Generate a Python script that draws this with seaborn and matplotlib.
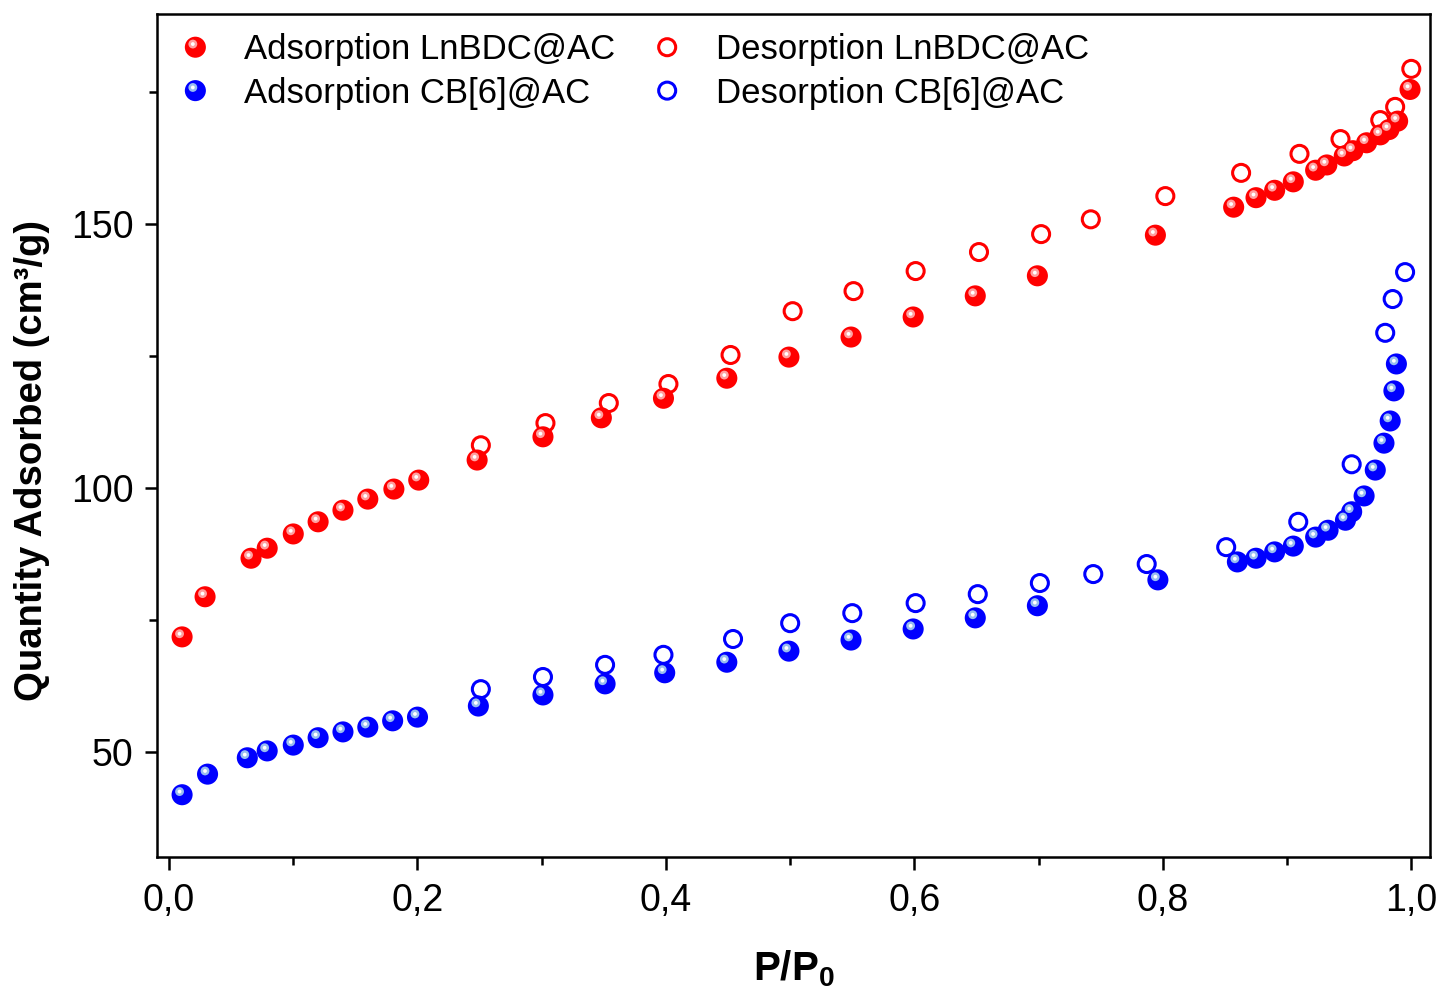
import numpy as np
import pandas as pd
import seaborn as sns
import matplotlib.pyplot as plt
from matplotlib.path import Path
from matplotlib.ticker import FuncFormatter, MultipleLocator
from matplotlib.legend_handler import HandlerTuple

# LnBDC@AC
ads_ln_x = [0.0105, 0.029, 0.066, 0.079, 0.100, 0.120, 0.140, 0.160, 0.181, 0.201,
            0.248, 0.301, 0.348, 0.398, 0.449, 0.499, 0.549, 0.599, 0.649, 0.699,
            0.794, 0.857, 0.875, 0.890, 0.905, 0.923, 0.932, 0.946, 0.953, 0.964,
            0.975, 0.982, 0.989, 0.999]
ads_ln_y = [71.8, 79.4, 86.7, 88.6, 91.3, 93.6, 95.8, 97.9, 99.8, 101.5,
            105.3, 109.7, 113.3, 117.0, 120.8, 124.8, 128.6, 132.4, 136.4, 140.2,
            147.9, 153.2, 155.0, 156.4, 158.0, 160.2, 161.2, 162.9, 163.9, 165.4,
            166.9, 167.9, 169.5, 175.5]
des_ln_x = [1.000, 0.987, 0.975, 0.943, 0.910, 0.863, 0.802, 0.742, 0.702, 0.652,
            0.601, 0.551, 0.502, 0.452, 0.402, 0.354, 0.303, 0.251]
des_ln_y = [179.4, 172.2, 169.7, 166.1, 163.3, 159.7, 155.3, 150.9, 148.1, 144.7,
            141.1, 137.3, 133.5, 125.2, 119.7, 116.1, 112.3, 108.1]

# CB[6]@AC
ads_cb_x = [0.0105, 0.031, 0.063, 0.079, 0.100, 0.120, 0.140, 0.160, 0.180, 0.200,
            0.249, 0.301, 0.351, 0.399, 0.449, 0.499, 0.549, 0.599, 0.649, 0.699,
            0.796, 0.860, 0.875, 0.890, 0.905, 0.923, 0.933, 0.947, 0.952, 0.962,
            0.971, 0.978, 0.983, 0.986, 0.988]
ads_cb_y = [41.9, 45.8, 48.9, 50.2, 51.3, 52.7, 53.8, 54.7, 55.9, 56.6,
            58.7, 60.8, 62.9, 65.0, 67.0, 69.1, 71.2, 73.3, 75.4, 77.7,
            82.6, 86.0, 86.7, 87.9, 89.0, 90.7, 92.0, 93.9, 95.5, 98.5,
            103.4, 108.5, 112.7, 118.4, 123.5]
des_cb_x = [0.995, 0.985, 0.979, 0.952, 0.909, 0.851, 0.787, 0.744, 0.701, 0.651,
            0.601, 0.550, 0.500, 0.454, 0.398, 0.351, 0.301, 0.251]
des_cb_y = [140.9, 135.8, 129.4, 104.5, 93.6, 88.8, 85.6, 83.7, 82.0, 79.9,
            78.2, 76.3, 74.4, 71.4, 68.4, 66.5, 64.2, 61.9]

labels = ["Adsorption LnBDC@AC", "Adsorption CB[6]@AC",
          "Desorption LnBDC@AC", "Desorption CB[6]@AC"]

sns.set_theme(style="ticks")
plt.rcParams['font.family'] = ['Liberation Sans', 'DejaVu Sans']
plt.rcParams['text.color'] = 'black'
plt.rcParams['axes.labelcolor'] = 'black'
plt.rcParams['mathtext.fontset'] = 'custom'
plt.rcParams['mathtext.bf'] = 'Liberation Sans:bold'
plt.rcParams['mathtext.rm'] = 'Liberation Sans'


def glint(r, dx, dy):
    # small offset circle used as the shiny spot on the balls
    circ = Path.circle((dx, dy), r)
    verts = np.vstack([[0.5, 0.5], circ.vertices])
    codes = np.concatenate([[Path.MOVETO], circ.codes])
    return Path(verts, codes)


spot_big = glint(0.21, -0.12, 0.15)
spot_small = glint(0.09, -0.12, 0.15)

fig = plt.figure(figsize=(14.39, 9.91), dpi=100)
ax = fig.add_axes([0.1091, 0.1352, 0.8846, 0.8507])

S_BALL = 230
S_RING = 150


def balls(x, y, color, light):
    sns.scatterplot(x=x, y=y, ax=ax, color=color, s=S_BALL, marker="o",
                    edgecolor="none", linewidth=0, legend=False, zorder=3)
    main = ax.collections[-1]
    sns.scatterplot(x=x, y=y, ax=ax, color=light, s=S_BALL, marker=spot_big,
                    edgecolor="none", linewidth=0, legend=False, zorder=4)
    hl1 = ax.collections[-1]
    sns.scatterplot(x=x, y=y, ax=ax, color="white", s=S_BALL, marker=spot_small,
                    edgecolor="none", linewidth=0, legend=False, zorder=5)
    hl2 = ax.collections[-1]
    return (main, hl1, hl2)


def rings(x, y, color):
    sns.scatterplot(x=x, y=y, ax=ax, color=color, s=S_RING, marker="o",
                    edgecolor=color, linewidth=2.2, legend=False, zorder=2)
    coll = ax.collections[-1]
    coll.set_facecolor("none")
    coll.set_edgecolor(color)
    return coll


h_ads_ln = balls(ads_ln_x, ads_ln_y, "#ff0000", "#ffa0a0")
h_ads_cb = balls(ads_cb_x, ads_cb_y, "#0000ff", "#98bdf0")
h_des_ln = rings(des_ln_x, des_ln_y, "#ff0000")
h_des_cb = rings(des_cb_x, des_cb_y, "#0000ff")

ax.set_xlim(-0.0097, 1.015)
ax.set_ylim(30.1, 189.8)
ax.xaxis.set_major_locator(MultipleLocator(0.2))
ax.xaxis.set_minor_locator(MultipleLocator(0.1))
ax.yaxis.set_major_locator(MultipleLocator(50))
ax.yaxis.set_minor_locator(MultipleLocator(25))
ax.xaxis.set_major_formatter(FuncFormatter(lambda v, p: f"{v:.1f}".replace(".", ",")))
ax.yaxis.set_major_formatter(FuncFormatter(lambda v, p: f"{v:.0f}"))

ax.tick_params(which="major", direction="out", length=9, width=1.8,
               labelsize=27, color="black", labelcolor="black")
ax.tick_params(axis="x", which="major", pad=10)
ax.tick_params(axis="y", which="major", pad=8)
ax.tick_params(which="minor", direction="out", length=6, width=1.8, color="black")
for sp in ax.spines.values():
    sp.set_linewidth(1.8)
    sp.set_color("black")

ax.set_xlabel(r"$\mathbf{P/P_0}$", fontsize=29, labelpad=21)
ax.set_ylabel("Quantity Adsorbed (cm³/g)", fontsize=27.5, fontweight="bold")
ax.yaxis.set_label_coords(-0.084, 0.47)

ax.legend([h_ads_ln, h_ads_cb, h_des_ln, h_des_cb], labels,
          handler_map={tuple: HandlerTuple(ndivide=1)},
          ncol=2, loc="upper left", bbox_to_anchor=(0.0165, 0.977),
          frameon=False, fontsize=25, borderpad=0, borderaxespad=0,
          handlelength=1.0, handletextpad=0.9, columnspacing=1.0,
          labelspacing=0.3, scatteryoffsets=[0.5])

fig.savefig("out.png", dpi=100, facecolor="white")
